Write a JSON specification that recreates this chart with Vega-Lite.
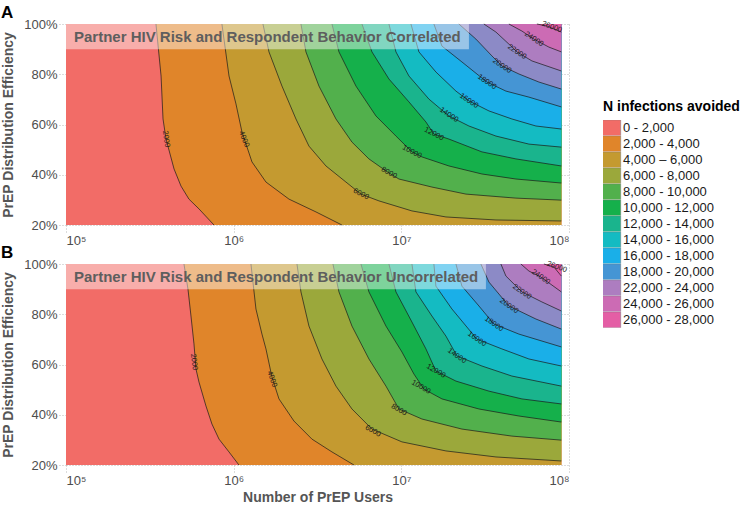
{
  "$schema": "https://vega.github.io/schema/vega-lite/v6.json",
  "background": "white",
  "padding": {"left": 1, "top": 4, "right": 4, "bottom": 4},
  "config": {
    "font": "Liberation Sans",
    "view": {"stroke": null},
    "axis": {
      "labelFont": "Liberation Sans", "labelFontSize": 13, "labelColor": "#4d4d4d",
      "titleFont": "Liberation Sans", "titleFontSize": 14, "titleFontWeight": "bold", "titleColor": "#555555",
      "grid": true, "gridColor": "#b8b8b8", "gridDash": [1, 2], "gridWidth": 1,
      "domain": false, "tickColor": "#b8b8b8", "tickDash": [1, 2], "tickSize": 7, "labelPadding": 2
    },
    "text": {"fontSize": 7.5, "color": "#1a1a1a", "align": "center", "baseline": "middle", "font": "Liberation Sans"},
    "title": {"font": "Liberation Sans", "fontSize": 17, "fontWeight": "bold", "color": "#000000", "anchor": "start", "frame": "group"}
  },
  "datasets": {
    "contours": [
      {"p":"A","lev":0,"N":100000,"e":0.2},{"p":"A","lev":0,"N":100000,"e":1},
      {"p":"A","lev":2000,"N":344000,"e":1},{"p":"A","lev":2000,"N":369000,"e":0.793},{"p":"A","lev":2000,"N":379000,"e":0.622},{"p":"A","lev":2000,"N":395000,"e":0.542},{"p":"A","lev":2000,"N":441000,"e":0.423},{"p":"A","lev":2000,"N":485000,"e":0.355},{"p":"A","lev":2000,"N":541000,"e":0.303},{"p":"A","lev":2000,"N":621000,"e":0.264},{"p":"A","lev":2000,"N":763000,"e":0.2},
      {"p":"A","lev":4000,"N":851000,"e":1},{"p":"A","lev":4000,"N":938000,"e":0.793},{"p":"A","lev":4000,"N":1032000,"e":0.682},{"p":"A","lev":4000,"N":1121000,"e":0.57},{"p":"A","lev":4000,"N":1286000,"e":0.451},{"p":"A","lev":4000,"N":1558000,"e":0.371},{"p":"A","lev":4000,"N":2137000,"e":0.303},{"p":"A","lev":4000,"N":3097000,"e":0.252},{"p":"A","lev":4000,"N":4423000,"e":0.2},
      {"p":"A","lev":6000,"N":1495000,"e":1},{"p":"A","lev":6000,"N":1624000,"e":0.889},{"p":"A","lev":6000,"N":1941000,"e":0.753},{"p":"A","lev":6000,"N":2352000,"e":0.622},{"p":"A","lev":6000,"N":2812000,"e":0.514},{"p":"A","lev":6000,"N":3551000,"e":0.435},{"p":"A","lev":6000,"N":4673000,"e":0.371},{"p":"A","lev":6000,"N":5743000,"e":0.323},{"p":"A","lev":6000,"N":7352000,"e":0.296},{"p":"A","lev":6000,"N":11570000,"e":0.256},{"p":"A","lev":6000,"N":18450000,"e":0.232},{"p":"A","lev":6000,"N":36650000,"e":0.22},{"p":"A","lev":6000,"N":90000000,"e":0.216},
      {"p":"A","lev":8000,"N":2519000,"e":1},{"p":"A","lev":8000,"N":2698000,"e":0.889},{"p":"A","lev":8000,"N":3226000,"e":0.753},{"p":"A","lev":8000,"N":4074000,"e":0.622},{"p":"A","lev":8000,"N":5075000,"e":0.53},{"p":"A","lev":8000,"N":6408000,"e":0.463},{"p":"A","lev":8000,"N":8435000,"e":0.407},{"p":"A","lev":8000,"N":9676000,"e":0.383},{"p":"A","lev":8000,"N":15220000,"e":0.351},{"p":"A","lev":8000,"N":24280000,"e":0.323},{"p":"A","lev":8000,"N":48250000,"e":0.307},{"p":"A","lev":8000,"N":90000000,"e":0.299},
      {"p":"A","lev":10000,"N":3857000,"e":1},{"p":"A","lev":10000,"N":4246000,"e":0.889},{"p":"A","lev":10000,"N":5362000,"e":0.753},{"p":"A","lev":10000,"N":7056000,"e":0.634},{"p":"A","lev":10000,"N":9287000,"e":0.554},{"p":"A","lev":10000,"N":11570000,"e":0.491},{"p":"A","lev":10000,"N":13270000,"e":0.471},{"p":"A","lev":10000,"N":19220000,"e":0.435},{"p":"A","lev":10000,"N":30240000,"e":0.403},{"p":"A","lev":10000,"N":48250000,"e":0.383},{"p":"A","lev":10000,"N":90000000,"e":0.367},
      {"p":"A","lev":12000,"N":5823000,"e":1},{"p":"A","lev":12000,"N":6680000,"e":0.889},{"p":"A","lev":12000,"N":8435000,"e":0.781},{"p":"A","lev":12000,"N":11100000,"e":0.69},{"p":"A","lev":12000,"N":14020000,"e":0.61},{"p":"A","lev":12000,"N":15640000,"e":0.562},{"p":"A","lev":12000,"N":19220000,"e":0.542},{"p":"A","lev":12000,"N":30240000,"e":0.491},{"p":"A","lev":12000,"N":48250000,"e":0.463},{"p":"A","lev":12000,"N":90000000,"e":0.435},
      {"p":"A","lev":14000,"N":8435000,"e":1},{"p":"A","lev":14000,"N":9287000,"e":0.889},{"p":"A","lev":14000,"N":11100000,"e":0.793},{"p":"A","lev":14000,"N":14610000,"e":0.701},{"p":"A","lev":14000,"N":19220000,"e":0.634},{"p":"A","lev":14000,"N":25300000,"e":0.594},{"p":"A","lev":14000,"N":36650000,"e":0.554},{"p":"A","lev":14000,"N":57670000,"e":0.522},{"p":"A","lev":14000,"N":90000000,"e":0.51},
      {"p":"A","lev":16000,"N":11410000,"e":1},{"p":"A","lev":16000,"N":12730000,"e":0.889},{"p":"A","lev":16000,"N":16080000,"e":0.809},{"p":"A","lev":16000,"N":21170000,"e":0.733},{"p":"A","lev":16000,"N":25300000,"e":0.694},{"p":"A","lev":16000,"N":33310000,"e":0.654},{"p":"A","lev":16000,"N":45650000,"e":0.622},{"p":"A","lev":16000,"N":63480000,"e":0.594},{"p":"A","lev":16000,"N":90000000,"e":0.582},
      {"p":"A","lev":18000,"N":15640000,"e":1},{"p":"A","lev":18000,"N":17470000,"e":0.912},{"p":"A","lev":18000,"N":22980000,"e":0.849},{"p":"A","lev":18000,"N":32390000,"e":0.769},{"p":"A","lev":18000,"N":42050000,"e":0.733},{"p":"A","lev":18000,"N":57670000,"e":0.709},{"p":"A","lev":18000,"N":90000000,"e":0.67},
      {"p":"A","lev":20000,"N":22050000,"e":1},{"p":"A","lev":20000,"N":27850000,"e":0.94},{"p":"A","lev":20000,"N":34690000,"e":0.873},{"p":"A","lev":20000,"N":39800000,"e":0.833},{"p":"A","lev":20000,"N":50270000,"e":0.801},{"p":"A","lev":20000,"N":66150000,"e":0.769},{"p":"A","lev":20000,"N":90000000,"e":0.741},
      {"p":"A","lev":22000,"N":31080000,"e":1},{"p":"A","lev":22000,"N":36650000,"e":0.968},{"p":"A","lev":22000,"N":43810000,"e":0.92},{"p":"A","lev":22000,"N":48910000,"e":0.889},{"p":"A","lev":22000,"N":60090000,"e":0.853},{"p":"A","lev":22000,"N":90000000,"e":0.813},
      {"p":"A","lev":24000,"N":43810000,"e":1},{"p":"A","lev":24000,"N":52370000,"e":0.972},{"p":"A","lev":24000,"N":61750000,"e":0.94},{"p":"A","lev":24000,"N":75900000,"e":0.908},{"p":"A","lev":24000,"N":90000000,"e":0.889},
      {"p":"A","lev":26000,"N":64350000,"e":1},{"p":"A","lev":26000,"N":73840000,"e":0.992},{"p":"A","lev":26000,"N":90000000,"e":0.968},
      {"p":"B","lev":0,"N":100000,"e":0.2},{"p":"B","lev":0,"N":100000,"e":1},
      {"p":"B","lev":2000,"N":505300,"e":1},{"p":"B","lev":2000,"N":534000,"e":0.9},{"p":"B","lev":2000,"N":556400,"e":0.793},{"p":"B","lev":2000,"N":579800,"e":0.682},{"p":"B","lev":2000,"N":596000,"e":0.582},{"p":"B","lev":2000,"N":621100,"e":0.53},{"p":"B","lev":2000,"N":683400,"e":0.435},{"p":"B","lev":2000,"N":742000,"e":0.363},{"p":"B","lev":2000,"N":817500,"e":0.303},{"p":"B","lev":2000,"N":937600,"e":0.252},{"p":"B","lev":2000,"N":1075000,"e":0.2},
      {"p":"B","lev":4000,"N":1268000,"e":1},{"p":"B","lev":4000,"N":1358000,"e":0.821},{"p":"B","lev":4000,"N":1475000,"e":0.721},{"p":"B","lev":4000,"N":1558000,"e":0.662},{"p":"B","lev":4000,"N":1692000,"e":0.55},{"p":"B","lev":4000,"N":1863000,"e":0.463},{"p":"B","lev":4000,"N":2288000,"e":0.375},{"p":"B","lev":4000,"N":2930000,"e":0.303},{"p":"B","lev":4000,"N":3857000,"e":0.252},{"p":"B","lev":4000,"N":5217000,"e":0.2},
      {"p":"B","lev":6000,"N":2385000,"e":1},{"p":"B","lev":6000,"N":2519000,"e":0.889},{"p":"B","lev":6000,"N":2812000,"e":0.753},{"p":"B","lev":6000,"N":3361000,"e":0.622},{"p":"B","lev":6000,"N":4074000,"e":0.514},{"p":"B","lev":6000,"N":5075000,"e":0.423},{"p":"B","lev":6000,"N":6680000,"e":0.343},{"p":"B","lev":6000,"N":10080000,"e":0.292},{"p":"B","lev":6000,"N":18450000,"e":0.256},{"p":"B","lev":6000,"N":36650000,"e":0.232},{"p":"B","lev":6000,"N":90000000,"e":0.216},
      {"p":"B","lev":8000,"N":3909000,"e":1},{"p":"B","lev":8000,"N":4246000,"e":0.889},{"p":"B","lev":8000,"N":5075000,"e":0.753},{"p":"B","lev":8000,"N":6408000,"e":0.622},{"p":"B","lev":8000,"N":8095000,"e":0.514},{"p":"B","lev":8000,"N":9676000,"e":0.423},{"p":"B","lev":8000,"N":13270000,"e":0.383},{"p":"B","lev":8000,"N":22980000,"e":0.343},{"p":"B","lev":8000,"N":45650000,"e":0.315},{"p":"B","lev":8000,"N":90000000,"e":0.299},
      {"p":"B","lev":10000,"N":5743000,"e":1},{"p":"B","lev":10000,"N":6408000,"e":0.889},{"p":"B","lev":10000,"N":8095000,"e":0.753},{"p":"B","lev":10000,"N":10080000,"e":0.65},{"p":"B","lev":10000,"N":11890000,"e":0.562},{"p":"B","lev":10000,"N":13640000,"e":0.502},{"p":"B","lev":10000,"N":17470000,"e":0.463},{"p":"B","lev":10000,"N":29020000,"e":0.423},{"p":"B","lev":10000,"N":50270000,"e":0.395},{"p":"B","lev":10000,"N":90000000,"e":0.371},
      {"p":"B","lev":12000,"N":8435000,"e":1},{"p":"B","lev":12000,"N":9287000,"e":0.889},{"p":"B","lev":12000,"N":11570000,"e":0.769},{"p":"B","lev":12000,"N":14020000,"e":0.662},{"p":"B","lev":12000,"N":16080000,"e":0.574},{"p":"B","lev":12000,"N":21170000,"e":0.534},{"p":"B","lev":12000,"N":33310000,"e":0.494},{"p":"B","lev":12000,"N":52370000,"e":0.463},{"p":"B","lev":12000,"N":90000000,"e":0.443},
      {"p":"B","lev":14000,"N":11570000,"e":1},{"p":"B","lev":14000,"N":12220000,"e":0.889},{"p":"B","lev":14000,"N":15220000,"e":0.793},{"p":"B","lev":14000,"N":18450000,"e":0.713},{"p":"B","lev":14000,"N":21460000,"e":0.634},{"p":"B","lev":14000,"N":30240000,"e":0.594},{"p":"B","lev":14000,"N":45650000,"e":0.554},{"p":"B","lev":14000,"N":90000000,"e":0.514},
      {"p":"B","lev":16000,"N":15640000,"e":1},{"p":"B","lev":16000,"N":16080000,"e":0.912},{"p":"B","lev":16000,"N":20030000,"e":0.821},{"p":"B","lev":16000,"N":28230000,"e":0.701},{"p":"B","lev":16000,"N":39800000,"e":0.662},{"p":"B","lev":16000,"N":57670000,"e":0.622},{"p":"B","lev":16000,"N":90000000,"e":0.594},
      {"p":"B","lev":18000,"N":21170000,"e":1},{"p":"B","lev":18000,"N":22980000,"e":0.912},{"p":"B","lev":18000,"N":29020000,"e":0.833},{"p":"B","lev":18000,"N":35660000,"e":0.761},{"p":"B","lev":18000,"N":50270000,"e":0.721},{"p":"B","lev":18000,"N":90000000,"e":0.67},
      {"p":"B","lev":20000,"N":29830000,"e":1},{"p":"B","lev":20000,"N":33310000,"e":0.928},{"p":"B","lev":20000,"N":43810000,"e":0.833},{"p":"B","lev":20000,"N":63480000,"e":0.781},{"p":"B","lev":20000,"N":90000000,"e":0.741},
      {"p":"B","lev":22000,"N":39260000,"e":1},{"p":"B","lev":22000,"N":42050000,"e":0.952},{"p":"B","lev":22000,"N":52370000,"e":0.889},{"p":"B","lev":22000,"N":68930000,"e":0.849},{"p":"B","lev":22000,"N":90000000,"e":0.813},
      {"p":"B","lev":24000,"N":51660000,"e":1},{"p":"B","lev":24000,"N":57670000,"e":0.972},{"p":"B","lev":24000,"N":67970000,"e":0.948},{"p":"B","lev":24000,"N":90000000,"e":0.889},
      {"p":"B","lev":26000,"N":70850000,"e":1},{"p":"B","lev":26000,"N":81280000,"e":0.988},{"p":"B","lev":26000,"N":90000000,"e":0.952}
    ],
    "labels": [
      {"p":"A","lev":2000,"N":395000,"e":0.542},{"p":"A","lev":4000,"N":1152000,"e":0.542},{"p":"A","lev":6000,"N":5743000,"e":0.323},{"p":"A","lev":8000,"N":8435000,"e":0.407},{"p":"A","lev":10000,"N":11570000,"e":0.491},{"p":"A","lev":12000,"N":15640000,"e":0.562},{"p":"A","lev":14000,"N":19220000,"e":0.638},{"p":"A","lev":16000,"N":25300000,"e":0.694},{"p":"A","lev":18000,"N":32390000,"e":0.769},{"p":"A","lev":20000,"N":39800000,"e":0.833},{"p":"A","lev":22000,"N":48910000,"e":0.889},{"p":"A","lev":24000,"N":61750000,"e":0.94},{"p":"A","lev":26000,"N":79070000,"e":0.988},
      {"p":"B","lev":2000,"N":579800,"e":0.61},{"p":"B","lev":4000,"N":1692000,"e":0.542},{"p":"B","lev":6000,"N":6770000,"e":0.335},{"p":"B","lev":8000,"N":9676000,"e":0.419},{"p":"B","lev":10000,"N":13090000,"e":0.51},{"p":"B","lev":12000,"N":16080000,"e":0.574},{"p":"B","lev":14000,"N":21460000,"e":0.634},{"p":"B","lev":16000,"N":28230000,"e":0.701},{"p":"B","lev":18000,"N":35660000,"e":0.761},{"p":"B","lev":20000,"N":43810000,"e":0.833},{"p":"B","lev":22000,"N":52370000,"e":0.889},{"p":"B","lev":24000,"N":67970000,"e":0.948},{"p":"B","lev":26000,"N":84700000,"e":0.988}
    ]
  },
  "vconcat": [
    {
      "width": 503, "height": 201,
      "title": {"text": "A", "dx": -65, "offset": -4},
      "layer": [
        {
          "data": {"name": "contours"},
          "transform": [{"filter": "datum.p == 'A'"}],
          "mark": {"type": "area", "orient": "horizontal", "interpolate": "linear"},
          "encoding": {
            "y": {"field": "e", "type": "quantitative", "scale": {"domain": [0.2, 1], "nice": false},
                  "axis": {"values": [0.2, 0.4, 0.6, 0.8, 1], "format": ".0%", "title": "PrEP Distribution Efficiency", "titlePadding": 8}},
            "x": {"field": "N", "type": "quantitative", "stack": null, "scale": {"type": "log", "domain": [100000, 100000000], "nice": false},
                  "axis": {"values": [100000, 1000000, 10000000, 100000000], "title": null,
                           "labelExpr": "datum.value >= 99999999 ? '10⁸' : datum.value >= 9999999 ? '10⁷' : datum.value >= 999999 ? '10⁶' : '10⁵'"}},
            "x2": {"datum": 90000000},
            "color": {"field": "lev", "type": "ordinal",
                      "scale": {"domain": [0,2000,4000,6000,8000,10000,12000,14000,16000,18000,20000,22000,24000,26000],
                                "range": ["#F26C67","#E0852A","#C49A30","#9BA83B","#52B04C","#15B04B","#1AB48D","#14BBC2","#1AAFE8","#4595D4","#8C8AC6","#AD7DC0","#CC6BB4","#E45EA5"]},
                      "legend": {"title": "N infections avoided", "orient": "none", "legendX": 537, "legendY": 76,
                                 "values": [0,2000,4000,6000,8000,10000,12000,14000,16000,18000,22000,24000,26000],
                                 "labelExpr": "datum.value == 4000 ? '4,000 – 6,000' : format(datum.value, ',') + ' - ' + format(datum.value + 2000, ',')",
                                 "titleFontSize": 14, "titleFontWeight": "bold", "titleColor": "#000000", "titleFont": "Liberation Sans", "titlePadding": 6,
                                 "labelFontSize": 13, "labelColor": "#1a1a1a", "labelFont": "Liberation Sans", "labelOffset": 3,
                                 "symbolType": "M-1.15,-1H1.15V1H-1.15Z", "symbolSize": 256, "clipHeight": 15.7, "rowPadding": 0,
                                 "symbolStrokeColor": "#777777", "symbolStrokeWidth": 0.5, "symbolOpacity": 1}}
          }
        },
        {
          "data": {"name": "contours"},
          "transform": [{"filter": "datum.p == 'A' && datum.lev > 0"}],
          "mark": {"type": "line", "color": "#1a1a1a", "strokeWidth": 0.7},
          "encoding": {
            "x": {"field": "N", "type": "quantitative"},
            "y": {"field": "e", "type": "quantitative"},
            "detail": {"field": "lev"}
          }
        },
        {
          "data": {"name": "labels"},
          "transform": [{"filter": "datum.p == 'A' && datum.lev == 2000"}],
          "mark": {"type": "text", "angle": 82},
          "encoding": {"x": {"field": "N", "type": "quantitative"}, "y": {"field": "e", "type": "quantitative"}, "text": {"field": "lev", "type": "quantitative", "format": "d"}}
        },
        {
          "data": {"name": "labels"},
          "transform": [{"filter": "datum.p == 'A' && datum.lev == 4000"}],
          "mark": {"type": "text", "angle": 68},
          "encoding": {"x": {"field": "N", "type": "quantitative"}, "y": {"field": "e", "type": "quantitative"}, "text": {"field": "lev", "type": "quantitative", "format": "d"}}
        },
        {
          "data": {"name": "labels"},
          "transform": [{"filter": "datum.p == 'A' && datum.lev >= 6000 && datum.lev <= 12000"}],
          "mark": {"type": "text", "angle": 28},
          "encoding": {"x": {"field": "N", "type": "quantitative"}, "y": {"field": "e", "type": "quantitative"}, "text": {"field": "lev", "type": "quantitative", "format": "d"}}
        },
        {
          "data": {"name": "labels"},
          "transform": [{"filter": "datum.p == 'A' && datum.lev >= 14000 && datum.lev <= 24000"}],
          "mark": {"type": "text", "angle": 34},
          "encoding": {"x": {"field": "N", "type": "quantitative"}, "y": {"field": "e", "type": "quantitative"}, "text": {"field": "lev", "type": "quantitative", "format": "d"}}
        },
        {
          "data": {"name": "labels"},
          "transform": [{"filter": "datum.p == 'A' && datum.lev == 26000"}],
          "mark": {"type": "text", "angle": 20},
          "encoding": {"x": {"field": "N", "type": "quantitative"}, "y": {"field": "e", "type": "quantitative"}, "text": {"field": "lev", "type": "quantitative", "format": "d"}}
        },
        {
          "data": {"values": [{}]},
          "mark": {"type": "rect", "color": "#ffffff", "opacity": 0.45},
          "encoding": {
            "x": {"datum": 100000}, "x2": {"datum": 25300000},
            "y": {"datum": 0.9}, "y2": {"datum": 1}
          }
        },
        {
          "data": {"values": [{}]},
          "mark": {"type": "text", "text": "Partner HIV Risk and Respondent Behavior Correlated", "align": "left", "baseline": "middle", "dx": 8,
                   "fontSize": 15, "fontWeight": "bold", "color": "#5e5e5e", "font": "Liberation Sans"},
          "encoding": {"x": {"datum": 100000}, "y": {"datum": 0.95}}
        }
      ]
    },
    {
      "width": 503, "height": 201,
      "title": {"text": "B", "dx": -65, "offset": -4},
      "layer": [
        {
          "data": {"name": "contours"},
          "transform": [{"filter": "datum.p == 'B'"}],
          "mark": {"type": "area", "orient": "horizontal", "interpolate": "linear"},
          "encoding": {
            "y": {"field": "e", "type": "quantitative", "scale": {"domain": [0.2, 1], "nice": false},
                  "axis": {"values": [0.2, 0.4, 0.6, 0.8, 1], "format": ".0%", "title": "PrEP Distribution Efficiency", "titlePadding": 8}},
            "x": {"field": "N", "type": "quantitative", "stack": null, "scale": {"type": "log", "domain": [100000, 100000000], "nice": false},
                  "axis": {"values": [100000, 1000000, 10000000, 100000000], "title": "Number of PrEP Users", "titlePadding": 3,
                           "labelExpr": "datum.value >= 99999999 ? '10⁸' : datum.value >= 9999999 ? '10⁷' : datum.value >= 999999 ? '10⁶' : '10⁵'"}},
            "x2": {"datum": 90000000},
            "color": {"field": "lev", "type": "ordinal"}
          }
        },
        {
          "data": {"name": "contours"},
          "transform": [{"filter": "datum.p == 'B' && datum.lev > 0"}],
          "mark": {"type": "line", "color": "#1a1a1a", "strokeWidth": 0.7},
          "encoding": {
            "x": {"field": "N", "type": "quantitative"},
            "y": {"field": "e", "type": "quantitative"},
            "detail": {"field": "lev"}
          }
        },
        {
          "data": {"name": "labels"},
          "transform": [{"filter": "datum.p == 'B' && datum.lev == 2000"}],
          "mark": {"type": "text", "angle": 84},
          "encoding": {"x": {"field": "N", "type": "quantitative"}, "y": {"field": "e", "type": "quantitative"}, "text": {"field": "lev", "type": "quantitative", "format": "d"}}
        },
        {
          "data": {"name": "labels"},
          "transform": [{"filter": "datum.p == 'B' && datum.lev == 4000"}],
          "mark": {"type": "text", "angle": 70},
          "encoding": {"x": {"field": "N", "type": "quantitative"}, "y": {"field": "e", "type": "quantitative"}, "text": {"field": "lev", "type": "quantitative", "format": "d"}}
        },
        {
          "data": {"name": "labels"},
          "transform": [{"filter": "datum.p == 'B' && datum.lev >= 6000 && datum.lev <= 12000"}],
          "mark": {"type": "text", "angle": 30},
          "encoding": {"x": {"field": "N", "type": "quantitative"}, "y": {"field": "e", "type": "quantitative"}, "text": {"field": "lev", "type": "quantitative", "format": "d"}}
        },
        {
          "data": {"name": "labels"},
          "transform": [{"filter": "datum.p == 'B' && datum.lev >= 14000 && datum.lev <= 24000"}],
          "mark": {"type": "text", "angle": 35},
          "encoding": {"x": {"field": "N", "type": "quantitative"}, "y": {"field": "e", "type": "quantitative"}, "text": {"field": "lev", "type": "quantitative", "format": "d"}}
        },
        {
          "data": {"name": "labels"},
          "transform": [{"filter": "datum.p == 'B' && datum.lev == 26000"}],
          "mark": {"type": "text", "angle": 20},
          "encoding": {"x": {"field": "N", "type": "quantitative"}, "y": {"field": "e", "type": "quantitative"}, "text": {"field": "lev", "type": "quantitative", "format": "d"}}
        },
        {
          "data": {"values": [{}]},
          "mark": {"type": "rect", "color": "#ffffff", "opacity": 0.45},
          "encoding": {
            "x": {"datum": 100000}, "x2": {"datum": 31950000},
            "y": {"datum": 0.9}, "y2": {"datum": 1}
          }
        },
        {
          "data": {"values": [{}]},
          "mark": {"type": "text", "text": "Partner HIV Risk and Respondent Behavior Uncorrelated", "align": "left", "baseline": "middle", "dx": 8,
                   "fontSize": 15, "fontWeight": "bold", "color": "#5e5e5e", "font": "Liberation Sans"},
          "encoding": {"x": {"datum": 100000}, "y": {"datum": 0.95}}
        }
      ]
    }
  ],
  "spacing": 39,
  "bounds": "flush",
  "resolve": {"scale": {"color": "shared"}}
}
